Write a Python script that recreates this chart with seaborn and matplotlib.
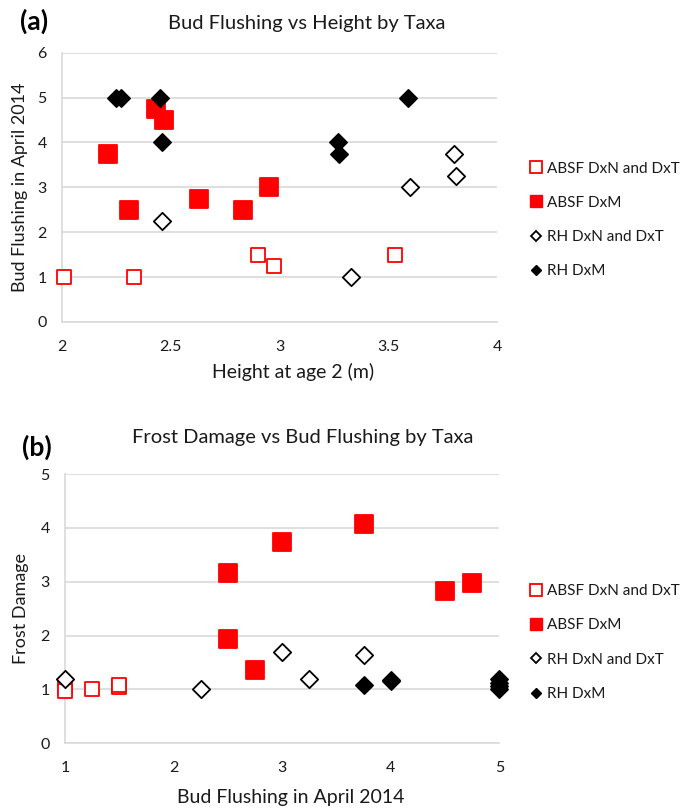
import matplotlib
matplotlib.use("Agg")
import matplotlib.pyplot as plt
from matplotlib.lines import Line2D
import seaborn as sns

# panel (a): height at age 2 vs bud flushing
absf_open_height = [2.01, 2.33, 2.90, 2.975, 3.53]
absf_open_flush = [1.0, 1.0, 1.5, 1.25, 1.5]
absf_dxm_height = [2.21, 2.31, 2.43, 2.47, 2.63, 2.83, 2.95]
absf_dxm_flush = [3.75, 2.5, 4.75, 4.5, 2.75, 2.5, 3.0]
rh_open_height = [2.46, 3.33, 3.60, 3.80, 3.81]
rh_open_flush = [2.25, 1.0, 3.0, 3.75, 3.25]
rh_dxm_height = [2.25, 2.27, 2.45, 2.46, 3.27, 3.275, 3.59]
rh_dxm_flush = [5.0, 5.0, 5.0, 4.0, 4.0, 3.75, 5.0]

# panel (b): bud flushing vs frost damage
absf_open_frost_x = [1.0, 1.0, 1.25, 1.5, 1.5]
absf_open_frost_y = [1.05, 0.97, 1.0, 1.05, 1.09]
absf_dxm_frost_x = [2.5, 2.5, 2.75, 3.0, 3.75, 4.5, 4.75]
absf_dxm_frost_y = [3.17, 1.94, 1.37, 3.73, 4.07, 2.82, 2.97]
rh_open_frost_x = [1.0, 2.25, 3.0, 3.25, 3.75]
rh_open_frost_y = [1.2, 1.0, 1.7, 1.2, 1.64]
rh_dxm_frost_x = [3.75, 4.0, 4.0, 5.0, 5.0, 5.0, 5.0]
rh_dxm_frost_y = [1.08, 1.16, 1.18, 1.0, 1.06, 1.12, 1.19]

legend_labels = ["ABSF DxN and DxT", "ABSF DxM", "RH DxN and DxT", "RH DxM"]

RED = "#ff0000"
GRID = "#d9d9d9"
TEXT = "#1a1a1a"

sns.set_theme(style="white")
plt.rcParams["font.family"] = ["Lato", "DejaVu Sans"]
plt.rcParams["text.color"] = TEXT
plt.rcParams["axes.labelcolor"] = TEXT
plt.rcParams["xtick.color"] = TEXT
plt.rcParams["ytick.color"] = TEXT

fig = plt.figure(figsize=(6.83, 8.10), dpi=100)
ax_a = fig.add_axes([0.0908, 0.6025, 0.6369, 0.3325])
ax_b = fig.add_axes([0.0952, 0.0823, 0.6358, 0.3325])


def draw_groups(ax, groups):
    for xs, ys, marker, size, face, edge in groups:
        sns.scatterplot(
            x=xs,
            y=ys,
            marker=marker,
            s=size,
            facecolor=face,
            edgecolor=edge,
            linewidth=1.3,
            clip_on=False,
            zorder=3,
            ax=ax
        )


def style_axes(ax, xlim, ylim, xticks, xticklabels):
    ax.set_xlim(*xlim)
    ax.set_ylim(*ylim)
    ax.set_xticks(xticks)
    ax.set_xticklabels(xticklabels)
    ax.set_yticks(range(int(ylim[0]), int(ylim[1]) + 1))
    ax.yaxis.grid(True, color=GRID, linewidth=1.2)
    ax.set_axisbelow(True)
    for side in ["top", "right"]:
        ax.spines[side].set_visible(False)
    for side in ["left", "bottom"]:
        ax.spines[side].set_color(GRID)
        ax.spines[side].set_linewidth(1.2)
    ax.tick_params(axis="both", length=0, labelsize=11.5)
    ax.tick_params(axis="x", pad=13)
    ax.tick_params(axis="y", pad=11)


draw_groups(ax_a, [
    (absf_open_height, absf_open_flush, "s", 115, "white", RED),
    (absf_dxm_height, absf_dxm_flush, "s", 150, RED, RED),
    (rh_open_height, rh_open_flush, "D", 78, "white", "black"),
    (rh_dxm_height, rh_dxm_flush, "D", 76, "black", "black"),
])
style_axes(ax_a, (2, 4), (0, 6), [2, 2.5, 3, 3.5, 4], ["2", "2.5", "3", "3.5", "4"])
ax_a.set_xlabel("Height at age 2 (m)", fontsize=14)
ax_a.xaxis.set_label_coords(0.53, -0.152)
ax_a.set_ylabel("Bud Flushing in April 2014", fontsize=13, labelpad=7)
ax_a.set_title("Bud Flushing vs Height by Taxa", fontsize=14.5, pad=17, x=0.563)

draw_groups(ax_b, [
    (absf_open_frost_x, absf_open_frost_y, "s", 115, "white", RED),
    (absf_dxm_frost_x, absf_dxm_frost_y, "s", 150, RED, RED),
    (rh_open_frost_x, rh_open_frost_y, "D", 78, "white", "black"),
    (rh_dxm_frost_x, rh_dxm_frost_y, "D", 76, "black", "black"),
])
style_axes(ax_b, (1, 5), (0, 5), [1, 2, 3, 4, 5], ["1", "2", "3", "4", "5"])
ax_b.set_xlabel("Bud Flushing in April 2014", fontsize=14)
ax_b.xaxis.set_label_coords(0.52, -0.168)
ax_b.set_ylabel("Frost Damage", fontsize=13, labelpad=8)
ax_b.set_title("Frost Damage vs Bud Flushing by Taxa", fontsize=14.5, pad=22, x=0.548)

fig.text(0.030, 0.9735, "(a)", fontsize=19, fontweight="bold", va="center", ha="left", color="black")
fig.text(0.032, 0.4475, "(b)", fontsize=19, fontweight="bold", va="center", ha="left", color="black")

handles = [
    Line2D([], [], linestyle="none", marker="s", markersize=8, markerfacecolor="white",
           markeredgecolor=RED, markeredgewidth=1.3),
    Line2D([], [], linestyle="none", marker="s", markersize=9, markerfacecolor=RED,
           markeredgecolor=RED),
    Line2D([], [], linestyle="none", marker="D", markersize=5.5, markerfacecolor="white",
           markeredgecolor="black", markeredgewidth=1.3),
    Line2D([], [], linestyle="none", marker="D", markersize=5.5, markerfacecolor="black",
           markeredgecolor="black"),
]

for anchor_y in [0.7284, 0.2068]:
    fig.legend(
        handles,
        legend_labels,
        loc="center left",
        bbox_to_anchor=(0.774, anchor_y),
        frameon=False,
        fontsize=11,
        handlelength=0.9,
        handletextpad=0.3,
        labelspacing=1.33,
        borderaxespad=0,
        borderpad=0
    )

fig.savefig("out.png", dpi=100)
plt.close(fig)
